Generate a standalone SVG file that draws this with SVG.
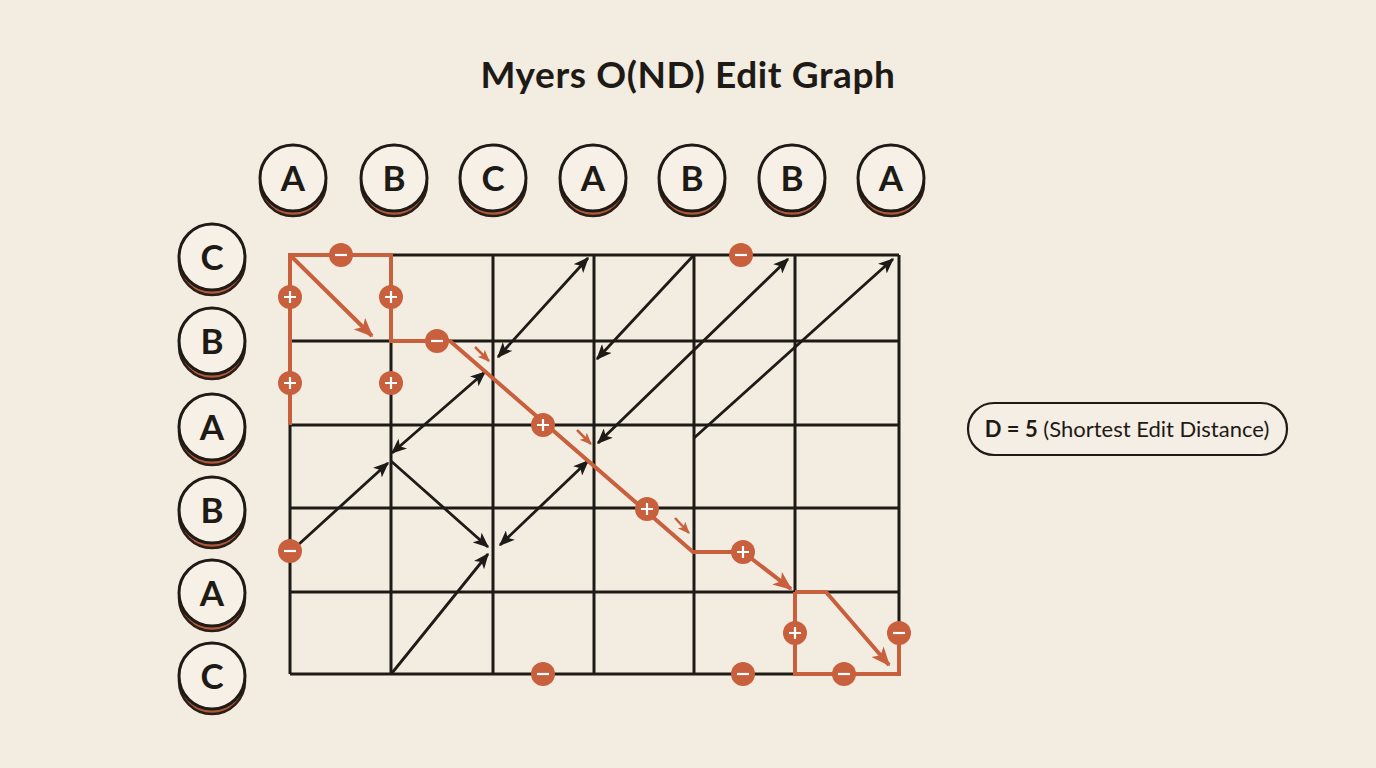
<svg xmlns="http://www.w3.org/2000/svg" width="1376" height="768" viewBox="0 0 1376 768">
<style>
.bg{fill:#f2ece1}
.title{font-family:"Lato","Liberation Sans",sans-serif;font-weight:700;font-size:37px;letter-spacing:0.6px;fill:#1e1a16}
.lbl{font-family:"Lato","Liberation Sans",sans-serif;font-weight:700;font-size:35px;fill:#1e1a16;text-anchor:middle}
.shadow{fill:#b0583a;stroke:#2a1d15;stroke-width:2.5}
.face{fill:#f6f0e6;stroke:#1e1a16;stroke-width:3}
.grid{stroke:#1e1a16;stroke-width:3;fill:none}
.arr{stroke:#1e1a16;stroke-width:2.8;fill:none}
.path{stroke:#c85f3d;stroke-width:4;fill:none;stroke-linejoin:miter}
.small{stroke:#c85f3d;stroke-width:2.5;fill:none}
.op{fill:#c85f3d}
.sym{stroke:#fff;stroke-width:2.2;fill:none}
.box{fill:#f4eee4;stroke:#1e1a16;stroke-width:2.2}
.dtxt{font-family:"Lato","Liberation Sans",sans-serif;font-size:22px;fill:#1e1a16}
</style>
<defs>
<marker id="ah" viewBox="0 0 12 10" refX="11" refY="5" markerWidth="16" markerHeight="13" markerUnits="userSpaceOnUse" orient="auto-start-reverse">
<path d="M0,0 L12,5 L0,10 L3,5 z" fill="#1e1a16"/>
</marker>
<marker id="oh" viewBox="0 0 12 10" refX="11" refY="5" markerWidth="20" markerHeight="16" markerUnits="userSpaceOnUse" orient="auto">
<path d="M0,0 L12,5 L0,10 L3,5 z" fill="#c85f3d"/>
</marker>
<marker id="osh" viewBox="0 0 12 10" refX="11" refY="5" markerWidth="12" markerHeight="10" markerUnits="userSpaceOnUse" orient="auto">
<path d="M0,0 L12,5 L0,10 L3,5 z" fill="#c85f3d"/>
</marker>
<g id="plus"><circle r="12" class="op"/><path class="sym" d="M-6,0 H6 M0,-6 V6"/></g>
<g id="minus"><circle r="12" class="op"/><path class="sym" d="M-6,0 H6"/></g>
</defs>
<rect class="bg" x="0" y="0" width="1376" height="768"/>
<text class="title" x="688" y="88" text-anchor="middle">Myers O(ND) Edit Graph</text>

<g id="top-letters">
<g id="col-1"><circle class="shadow" cx="293" cy="183" r="33"/><circle class="face" cx="293" cy="178" r="33"/><text class="lbl" x="293" y="191">A</text></g>
<g id="col-2"><circle class="shadow" cx="394" cy="183" r="33"/><circle class="face" cx="394" cy="178" r="33"/><text class="lbl" x="394" y="191">B</text></g>
<g id="col-3"><circle class="shadow" cx="493" cy="183" r="33"/><circle class="face" cx="493" cy="178" r="33"/><text class="lbl" x="493" y="191">C</text></g>
<g id="col-4"><circle class="shadow" cx="593" cy="183" r="33"/><circle class="face" cx="593" cy="178" r="33"/><text class="lbl" x="593" y="191">A</text></g>
<g id="col-5"><circle class="shadow" cx="692" cy="183" r="33"/><circle class="face" cx="692" cy="178" r="33"/><text class="lbl" x="692" y="191">B</text></g>
<g id="col-6"><circle class="shadow" cx="792" cy="183" r="33"/><circle class="face" cx="792" cy="178" r="33"/><text class="lbl" x="792" y="191">B</text></g>
<g id="col-7"><circle class="shadow" cx="891" cy="183" r="33"/><circle class="face" cx="891" cy="178" r="33"/><text class="lbl" x="891" y="191">A</text></g>
</g>

<g id="left-letters">
<g id="row-1"><circle class="shadow" cx="212" cy="262" r="33"/><circle class="face" cx="212" cy="257" r="33"/><text class="lbl" x="212" y="270">C</text></g>
<g id="row-2"><circle class="shadow" cx="212" cy="346" r="33"/><circle class="face" cx="212" cy="341" r="33"/><text class="lbl" x="212" y="354">B</text></g>
<g id="row-3"><circle class="shadow" cx="212" cy="432" r="33"/><circle class="face" cx="212" cy="427" r="33"/><text class="lbl" x="212" y="440">A</text></g>
<g id="row-4"><circle class="shadow" cx="212" cy="515" r="33"/><circle class="face" cx="212" cy="510" r="33"/><text class="lbl" x="212" y="523">B</text></g>
<g id="row-5"><circle class="shadow" cx="212" cy="598" r="33"/><circle class="face" cx="212" cy="593" r="33"/><text class="lbl" x="212" y="606">A</text></g>
<g id="row-6"><circle class="shadow" cx="212" cy="681" r="33"/><circle class="face" cx="212" cy="676" r="33"/><text class="lbl" x="212" y="689">C</text></g>
</g>

<g id="grid">
<path class="grid" d="M290,255 H899 M290,341 H899 M290,425 H899 M290,508 H899 M290,592 H899 M290,674 H899"/>
<path class="grid" d="M290,255 V674 M391,255 V674 M493,255 V674 M594,255 V674 M694,255 V674 M795,255 V674 M899,255 V674"/>
</g>

<g id="connectors">
<line class="arr" x1="498" y1="357" x2="588" y2="258" marker-start="url(#ah)" marker-end="url(#ah)"/>
<line class="arr" x1="693" y1="256" x2="597" y2="359" marker-end="url(#ah)"/>
<line class="arr" x1="694" y1="438" x2="893" y2="259" marker-end="url(#ah)"/>
<line class="arr" x1="598" y1="443" x2="788" y2="259" marker-start="url(#ah)" marker-end="url(#ah)"/>
<line class="arr" x1="392" y1="453" x2="485" y2="372" marker-start="url(#ah)" marker-end="url(#ah)"/>
<line class="arr" x1="298" y1="545" x2="388" y2="463" marker-end="url(#ah)"/>
<line class="arr" x1="391" y1="461" x2="488" y2="547" marker-end="url(#ah)"/>
<line class="arr" x1="392" y1="673" x2="488" y2="554" marker-end="url(#ah)"/>
<line class="arr" x1="500" y1="545" x2="588" y2="461" marker-start="url(#ah)" marker-end="url(#ah)"/>

<path class="path" d="M290,425 V255 H391 V341 H450 L693,552 H743 L791,589" marker-end="url(#oh)"/>
<path class="path" d="M290,255 L372,336" marker-end="url(#oh)"/>
<path class="path" d="M795,592 H826 L889,665" marker-end="url(#oh)"/>
<path class="path" d="M795,592 V674 H899 V633"/>

<line class="small" x1="475" y1="347" x2="489" y2="361" marker-end="url(#osh)"/>
<line class="small" x1="577" y1="430" x2="591" y2="444" marker-end="url(#osh)"/>
<line class="small" x1="675" y1="518" x2="689" y2="533" marker-end="url(#osh)"/>
</g>

<g id="edit-ops">
<use href="#minus" x="341" y="255"/>
<use href="#minus" x="437" y="341"/>
<use href="#minus" x="741" y="255"/>
<use href="#minus" x="290" y="551"/>
<use href="#minus" x="543" y="674"/>
<use href="#minus" x="743" y="674"/>
<use href="#minus" x="844" y="674"/>
<use href="#minus" x="899" y="633"/>
<use href="#plus" x="290" y="297"/>
<use href="#plus" x="391" y="297"/>
<use href="#plus" x="290" y="383"/>
<use href="#plus" x="391" y="383"/>
<use href="#plus" x="543" y="425"/>
<use href="#plus" x="647" y="509"/>
<use href="#plus" x="743" y="552"/>
<use href="#plus" x="795" y="633"/>
</g>

<g id="distance-label">
<rect class="box" x="968" y="403" width="319" height="52" rx="26"/>
<text class="dtxt" x="1127" y="437" text-anchor="middle"><tspan font-weight="700">D = 5</tspan> (Shortest Edit Distance)</text>
</g>
</svg>
